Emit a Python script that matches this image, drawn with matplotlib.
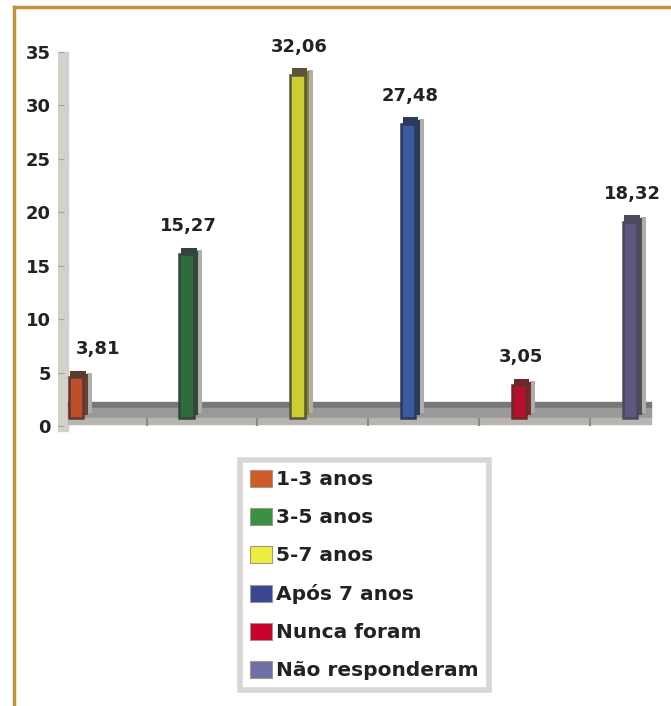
import numpy as np
import matplotlib
matplotlib.use("Agg")
import matplotlib.pyplot as plt
from matplotlib.patches import Patch
from matplotlib.lines import Line2D

# dados do gráfico (percentagens)
categorias = ["1-3 anos", "3-5 anos", "5-7 anos", "Após 7 anos", "Nunca foram", "Não responderam"]
valores = [3.81, 15.27, 32.06, 27.48, 3.05, 18.32]
rotulos = ["3,81", "15,27", "32,06", "27,48", "3,05", "18,32"]
yticks = [0, 5, 10, 15, 20, 25, 30, 35]

cor_frente = ["#BE4E2A", "#2F6B3B", "#CCCC33", "#3C5AA0", "#B80F2A", "#5C5882"]
cor_borda = ["#5C3A30", "#33443A", "#58553A", "#2C3A5C", "#6A2A2A", "#4A4A5A"]
cor_lado = ["#6A4034", "#2E4A38", "#8A8535", "#2A3A5A", "#7A2A2A", "#4E4E5E"]
cor_legenda = ["#D05A28", "#389040", "#EEEE40", "#3A4595", "#C8002A", "#7070A8"]

plt.rcParams["font.family"] = ["DejaVu Sans"]

fig = plt.figure(figsize=(6.71, 7.06), dpi=100)
ax = fig.add_axes([0.0864, 0.381, 0.897, 0.561])
ax.set_xlim(-0.18, 5.25)
ax.set_ylim(-1, 36)

x = np.arange(len(valores))
base = 0.8

# parede e chão (efeito 3D)
ax.fill_between([-0.18, -0.09], -0.4, 35, color="#D4D0CC", zorder=1)
ax.fill_between([-0.09, 5.17], 1.68, 2.25, color="#787878", zorder=1)
ax.fill_between([-0.09, 5.17], 0.75, 1.68, color="#999999", zorder=1)
ax.fill_between([-0.09, 5.17], 0.19, 0.75, color="#B8B4B0", zorder=1)
ax.vlines(x[:-1] + 0.62, 0.0, 0.75, color="#8A8A8A", lw=1.5, zorder=2)

# barras
ax.bar(x + 0.1, valores, width=0.045, bottom=base + 0.4, color="#B0ADAA", zorder=3)
ax.bar(x + 0.065, valores, width=0.045, bottom=base + 0.3, color=cor_lado, zorder=4)
ax.bar(x - 0.02, valores, width=0.13, bottom=base, color=cor_frente,
       edgecolor=cor_borda, linewidth=1.8, zorder=5)
topo = np.array(valores) + base
ax.bar(x + 0.0, [0.6] * len(valores), width=0.14, bottom=topo, color=cor_borda, zorder=5)

# rótulos dos valores
for i, (xi, t) in enumerate(zip(x, topo)):
    dx = 20 if i == 0 else 0
    ax.annotate(rotulos[i], (xi, t + 0.6), xytext=(dx * 0.72, 9), textcoords="offset points",
                ha="center", va="bottom", fontsize=13, fontweight="bold", color="#222222",
                zorder=6)

ax.set_yticks(yticks)
ax.set_yticklabels([str(v) for v in yticks], fontsize=13, fontweight="bold", color="#222222")
ax.tick_params(axis="y", direction="in", length=4, color="#A8A4A0", pad=5)
ax.set_xticks([])
for s in ax.spines.values():
    s.set_visible(False)

# legenda
handles = [Patch(facecolor=c, edgecolor="#A09890", linewidth=0.8) for c in cor_legenda]
leg = fig.legend(handles, categorias, loc="upper left", bbox_to_anchor=(240 / 671, 1 - 460 / 706),
                 borderaxespad=0, fancybox=False, frameon=True, handlelength=1.1,
                 handleheight=0.9, handletextpad=0.2, labelspacing=0.93, borderpad=0.5,
                 prop={"size": 14.5, "weight": "bold"})
leg.get_frame().set_edgecolor("#D0CCC8")
leg.get_frame().set_linewidth(4)
for t in leg.get_texts():
    t.set_color("#222222")

# moldura dourada
fig.add_artist(Line2D([14 / 671, 1], [1 - 7 / 706, 1 - 7 / 706], color="#C1923F", lw=2.5))
fig.add_artist(Line2D([14 / 671, 14 / 671], [0, 1 - 7 / 706], color="#C1923F", lw=2.5))

fig.savefig("out.png", dpi=100)
